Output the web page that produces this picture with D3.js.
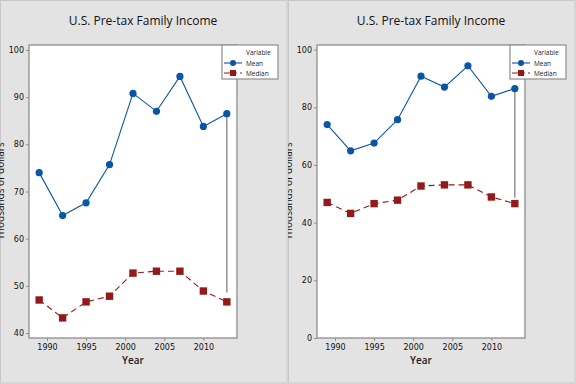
<!DOCTYPE html>
<html>
<head>
<meta charset="utf-8">
<script src="https://cdn.jsdelivr.net/npm/d3@7"></script>
<style>
  body { margin: 0; background: #e3e3e3; }
  svg { display: block; font-family: "Open Sans", "DejaVu Sans", sans-serif; }
</style>
</head>
<body>
<div id="canvas"></div>
<script>
// data
var Years = [1989, 1992, 1995, 1998, 2001, 2004, 2007, 2010, 2013]
var Mean = [74.0, 64.9, 67.6, 75.7, 90.8, 87.0, 94.4, 83.8, 86.5]
var Median = [47.0, 43.2, 46.6, 47.8, 52.7, 53.1, 53.1, 48.9, 46.6]
var DropLine = [86.5, 48.6]   // the gray line at the last year
var xTicks = [1990, 1995, 2000, 2005, 2010]
var yTicksLeft = [40, 50, 60, 70, 80, 90, 100]
var yTicksRight = [0, 20, 40, 60, 80, 100]

var W = 576, H = 384
var panelW = 288
var blue = '#0a55a5'
var red = '#921a1a'
var frame = '#8e8e8e'

var Svg = d3.select('#canvas')
  .append('svg')
  .attr('width', W)
  .attr('height', H)

Svg.append('rect').attr('width', W).attr('height', H).attr('fill', '#e3e3e3')

function drawPanel(px, yDomain, yTicks) {
  var clipId = 'clip' + px
  Svg.append('clipPath').attr('id', clipId)
    .append('rect').attr('x', px).attr('y', 0).attr('width', panelW).attr('height', H)

  var g = Svg.append('g')
    .attr('clip-path', 'url(#' + clipId + ')')
    .append('g')
    .attr('transform', 'translate(' + px + ',0)')

  // panel border
  g.append('rect')
    .attr('x', 0.5).attr('y', 0.5)
    .attr('width', panelW - 1.5).attr('height', H - 1.5)
    .attr('fill', 'none').attr('stroke', '#c8c8c8')

  var x = d3.scaleLinear().domain([1987.7, 2014.3]).range([29, 237])
  var y = d3.scaleLinear().domain(yDomain).range([338, 45])

  g.append('rect')
    .attr('x', 29).attr('y', 45)
    .attr('width', 208).attr('height', 293)
    .attr('fill', '#fff')
    .attr('stroke', frame).attr('stroke-width', 1.3)

  // axes
  var yAxis = d3.axisLeft(y).tickValues(yTicks).tickSize(3).tickPadding(2).tickSizeOuter(0)
  var gy = g.append('g').attr('transform', 'translate(29,0)').call(yAxis)
  var xAxis = d3.axisBottom(x).tickValues(xTicks).tickFormat(d3.format('d')).tickSize(3).tickPadding(3).tickSizeOuter(0)
  var gx = g.append('g').attr('transform', 'translate(0,338)').call(xAxis)
  ;[gx, gy].forEach(function (a) {
    a.select('.domain').remove()
    a.selectAll('line').attr('stroke', frame)
    a.selectAll('text').attr('fill', '#111').style('font-size', '8px')
      .style('font-family', '"DejaVu Sans", sans-serif')
  })

  // drop line
  g.append('line')
    .attr('x1', x(Years[Years.length - 1])).attr('x2', x(Years[Years.length - 1]))
    .attr('y1', y(DropLine[0])).attr('y2', y(DropLine[1]))
    .attr('stroke', '#8a8a8a').attr('stroke-width', 1.4)

  // series
  var lineMean = d3.line().x(function (d, i) { return x(Years[i]) }).y(function (d) { return y(d) })
  g.append('path').datum(Mean).attr('d', lineMean)
    .attr('fill', 'none').attr('stroke', blue).attr('stroke-width', 1.1)
  g.append('path').datum(Median).attr('d', lineMean)
    .attr('fill', 'none').attr('stroke', red).attr('stroke-width', 1.1)
    .attr('stroke-dasharray', '6,4')

  g.selectAll('.mpt').data(Mean).enter().append('circle')
    .attr('cx', function (d, i) { return x(Years[i]) })
    .attr('cy', function (d) { return y(d) })
    .attr('r', 3.6).attr('fill', blue)
  g.selectAll('.dpt').data(Median).enter().append('rect')
    .attr('x', function (d, i) { return x(Years[i]) - 3.7 })
    .attr('y', function (d) { return y(d) - 3.7 })
    .attr('width', 7.4).attr('height', 7.4).attr('fill', red)

  // title
  g.append('text')
    .attr('x', 143).attr('y', 25)
    .attr('text-anchor', 'middle')
    .style('font-size', '12px').style('font-weight', 500)
    .attr('fill', '#111')
    .text('U.S. Pre-tax Family Income')

  g.append('text')
    .attr('x', 133).attr('y', 364)
    .attr('text-anchor', 'middle')
    .style('font-size', '10px').style('font-weight', 600)
    .attr('fill', '#222')
    .text('Year')

  g.append('text')
    .attr('transform', 'translate(4,191) rotate(-90)')
    .attr('text-anchor', 'middle')
    .style('font-size', '10px')
    .attr('fill', '#111')
    .text('Thousands of dollars')

  // legend
  var lg = g.append('g').attr('transform', 'translate(222,45)')
  lg.append('rect').attr('x', 0).attr('y', 0).attr('width', 56).attr('height', 34)
    .attr('fill', '#fff').attr('stroke', frame).attr('stroke-width', 1.2)
  lg.append('text').attr('x', 24).attr('y', 9.5).style('font-size', '6.5px').attr('fill', '#222').text('Variable')
  lg.append('line').attr('x1', 2).attr('x2', 20).attr('y1', 18).attr('y2', 18)
    .attr('stroke', blue).attr('stroke-width', 1.1)
  lg.append('circle').attr('cx', 11).attr('cy', 18).attr('r', 3).attr('fill', blue)
  lg.append('text').attr('x', 24).attr('y', 20.5).style('font-size', '6.5px').attr('fill', '#222').text('Mean')
  lg.append('line').attr('x1', 2).attr('x2', 20).attr('y1', 28).attr('y2', 28)
    .attr('stroke', red).attr('stroke-width', 1.1).attr('stroke-dasharray', '13,3,2,3')
  lg.append('rect').attr('x', 8).attr('y', 25).attr('width', 6).attr('height', 6).attr('fill', red)
  lg.append('text').attr('x', 24).attr('y', 30.5).style('font-size', '6.5px').attr('fill', '#222').text('Median')
}

drawPanel(0, [38.94, 101.06], yTicksLeft)
drawPanel(288, [0, 101.6], yTicksRight)
</script>
</body>
</html>
